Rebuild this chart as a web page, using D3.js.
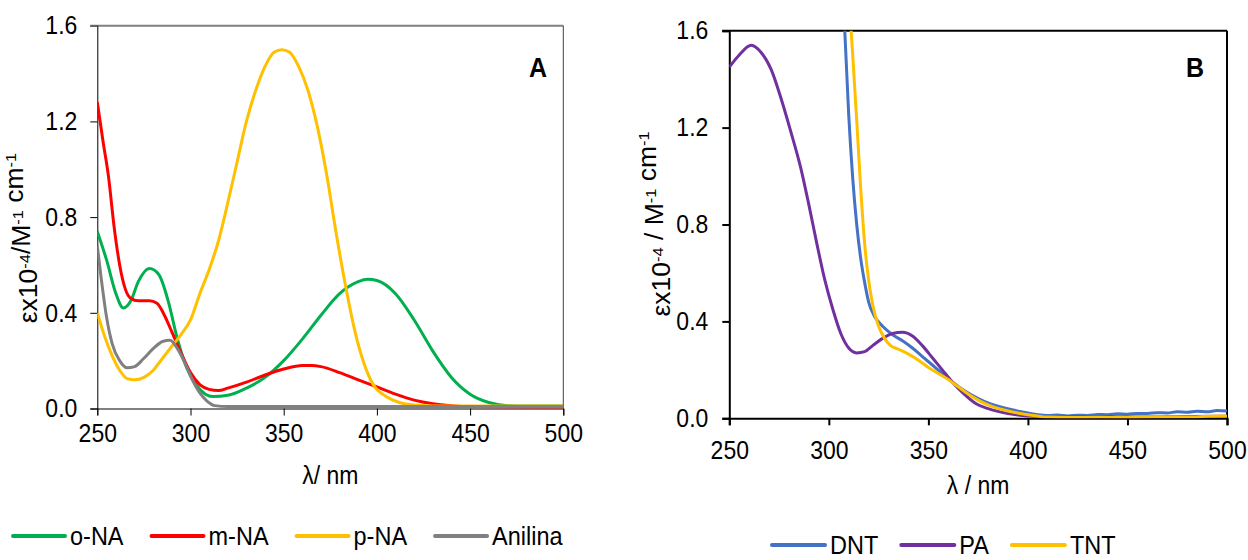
<!DOCTYPE html>
<html>
<head>
<meta charset="utf-8">
<script src="https://cdn.jsdelivr.net/npm/d3@7"></script>
<style>
  body { margin: 0; background: #fff; }
  text { font-family: "Liberation Sans", Arial, sans-serif; fill: #000; }
</style>
</head>
<body>
<div id="chart"></div>
<script>
// ---- data ----
// panel A: nitroanilines + aniline, wavelength (nm) / eps x1e-4
const oNA = [[250,0.74],[255,0.62],[260,0.48],[264,0.42],[268,0.45],[272,0.53],[278,0.585],[283,0.56],[288,0.45],[293,0.29],[298,0.17],[303,0.10],[308,0.06],[312,0.05],[320,0.055],[330,0.085],[340,0.13],[350,0.20],[360,0.29],[370,0.39],[380,0.48],[390,0.53],[395,0.54],[400,0.535],[410,0.48],[420,0.37],[430,0.24],[440,0.13],[450,0.06],[460,0.025],[470,0.012],[480,0.01],[500,0.01]];
const mNA = [[250,1.28],[253,1.12],[256,0.97],[259,0.76],[262,0.6],[265,0.5],[268,0.46],[272,0.45],[278,0.45],[282,0.44],[286,0.39],[290,0.32],[295,0.23],[300,0.15],[305,0.1],[310,0.08],[315,0.075],[320,0.085],[330,0.11],[340,0.14],[350,0.165],[360,0.18],[365,0.18],[370,0.175],[380,0.15],[390,0.12],[400,0.09],[410,0.06],[420,0.035],[430,0.02],[440,0.012],[450,0.008],[500,0.005]];
const pNA = [[250,0.40],[254,0.3],[258,0.22],[262,0.16],[266,0.125],[270,0.12],[275,0.13],[280,0.16],[285,0.21],[290,0.26],[295,0.31],[300,0.37],[305,0.48],[310,0.58],[315,0.70],[320,0.86],[325,1.03],[330,1.20],[335,1.33],[340,1.43],[345,1.49],[349,1.50],[353,1.49],[358,1.43],[363,1.33],[368,1.18],[373,0.98],[378,0.74],[383,0.52],[388,0.33],[393,0.19],[398,0.1],[405,0.05],[412,0.025],[420,0.015],[440,0.01],[500,0.01]];
const anilina = [[250,0.68],[252,0.55],[255,0.38],[258,0.27],[262,0.2],[266,0.17],[270,0.175],[275,0.21],[280,0.25],[285,0.28],[289,0.285],[293,0.25],[297,0.19],[301,0.12],[305,0.065],[309,0.03],[313,0.012],[320,0.008],[500,0.008]];

// panel B: explosives
const dnt = [[300,2.6],[305,2.0],[308,1.6],[310,1.25],[312,0.99],[314,0.8],[316,0.66],[318,0.56],[320,0.48],[323,0.42],[327,0.38],[332,0.345],[337,0.32],[342,0.29],[347,0.255],[352,0.22],[357,0.185],[362,0.15],[367,0.12],[372,0.095],[378,0.07],[385,0.05],[392,0.035],[400,0.022],[405,0.015],[410,0.012],[415,0.014],[420,0.01],[425,0.013],[430,0.012],[435,0.016],[440,0.015],[445,0.019],[450,0.017],[455,0.02],[460,0.02],[465,0.023],[470,0.022],[475,0.027],[480,0.025],[485,0.029],[490,0.027],[495,0.032],[500,0.03]];
const pa = [[250,1.45],[255,1.5],[261,1.54],[266,1.51],[271,1.44],[276,1.32],[281,1.18],[286,1.03],[290,0.88],[294,0.72],[298,0.57],[302,0.45],[306,0.35],[310,0.29],[314,0.27],[318,0.275],[322,0.3],[327,0.33],[332,0.35],[337,0.355],[342,0.34],[347,0.3],[352,0.25],[357,0.2],[362,0.15],[368,0.1],[374,0.06],[380,0.04],[390,0.02],[400,0.01],[420,0.005],[440,0.006],[460,0.005],[480,0.007],[500,0.008]];
const tnt = [[300,3.0],[306,2.2],[310,1.75],[312,1.5],[314,1.23],[316,0.95],[318,0.72],[320,0.57],[322,0.47],[325,0.38],[328,0.33],[331,0.3],[335,0.285],[340,0.265],[345,0.24],[350,0.21],[355,0.185],[360,0.16],[365,0.13],[370,0.1],[375,0.075],[380,0.055],[390,0.03],[400,0.015],[410,0.005],[420,0.003],[435,0.004],[450,0.003],[465,0.005],[480,0.005],[490,0.008],[500,0.01]];

const namesA = ["o-NA", "m-NA", "p-NA", "Anilina"];
const colorsA = ["#00B050", "#FF0000", "#FFC000", "#808080"];
const seriesA = [oNA, mNA, pNA, anilina];

const namesB = ["DNT", "PA", "TNT"];
const colorsB = ["#4472C4", "#7030A0", "#FFC000"];
const seriesB = [dnt, pa, tnt];

const xTicks = [250, 300, 350, 400, 450, 500];
const yTicks = [0, 0.4, 0.8, 1.2, 1.6];

// ---- drawing ----
const SY = 1.12; // text in the picture is a bit taller than wide
const svg = d3.select("#chart").append("svg").attr("width", 1248).attr("height", 560);

function label(x, y, txt, size, anchor, weight) {
  return svg.append("text")
    .attr("transform", `translate(${x},${y}) scale(1,${SY})`)
    .attr("text-anchor", anchor || "middle")
    .attr("dy", "0.35em")
    .style("font-size", size + "px")
    .style("font-weight", weight || "normal")
    .text(txt);
}

function yTitle(x, y, parts, size) {
  const t = svg.append("text")
    .attr("transform", `translate(${x},${y}) rotate(-90) scale(1.06,1)`)
    .attr("text-anchor", "middle")
    .attr("dy", "0.35em")
    .style("font-size", size + "px");
  parts.forEach(p => {
    if (p.sup) {
      t.append("tspan").attr("dy", -7).style("font-size", (size * 0.62) + "px").text(p.t);
      t.append("tspan").attr("dy", 7).text("");
    } else {
      t.append("tspan").text(p.t);
    }
  });
}

function panel(o) {
  const x = d3.scaleLinear().domain([250, 500]).range([o.left, o.right]);
  const y = d3.scaleLinear().domain([0, 1.6]).range([o.bottom, o.top]);

  const clipId = "clip" + o.id;
  svg.append("clipPath").attr("id", clipId).append("rect")
    .attr("x", o.left).attr("y", o.top).attr("width", o.right - o.left).attr("height", o.bottom - o.top);

  // frame
  svg.append("line").attr("x1", o.left - 7).attr("x2", o.right).attr("y1", o.top).attr("y2", o.top)
    .attr("stroke", o.topColor).attr("stroke-width", o.topW);
  svg.append("line").attr("x1", o.right).attr("x2", o.right).attr("y1", o.top).attr("y2", o.bottom)
    .attr("stroke", o.rightColor).attr("stroke-width", o.frameW);

  const gx = svg.append("g").attr("transform", `translate(0,${o.bottom})`)
    .call(d3.axisBottom(x).tickValues(xTicks).tickSize(7).tickFormat(d3.format("d")));
  const gy = svg.append("g").attr("transform", `translate(${o.left},0)`)
    .call(d3.axisLeft(y).tickValues(yTicks).tickSize(7).tickFormat(d3.format(".1f")));

  [gx, gy].forEach(g => {
    g.select(".domain").attr("stroke", "#000").attr("stroke-width", o.frameW);
    g.selectAll(".tick line").attr("stroke", "#000").attr("stroke-width", o.frameW);
    g.selectAll("text").style("font-size", o.tickSize + "px").style("font-family", "Liberation Sans, Arial, sans-serif")
      .attr("fill", "#000");
  });
  gx.selectAll("text").attr("y", o.xLabOff / SY).attr("transform", `scale(1,${SY})`);
  gy.selectAll("text").attr("x", -o.yLabOff).attr("transform", `scale(1,${SY})`);
  gy.select(".tick:last-of-type line").attr("stroke", o.topColor);

  const line = d3.line().x(d => x(d[0])).y(d => y(d[1])).curve(d3.curveMonotoneX);
  const g = svg.append("g").attr("clip-path", `url(#${clipId})`);
  o.series.forEach((s, i) => {
    g.append("path").datum(s).attr("d", line)
      .attr("fill", "none").attr("stroke", o.colors[i]).attr("stroke-width", 3)
      .attr("stroke-linejoin", "round");
  });

  label(o.letterX, o.letterY, o.letter, 25, "middle", "bold");
  label((o.left + o.right) / 2 + o.xTitleDx, o.xTitleY, o.xTitle, o.tickSize, "middle");
  yTitle(o.yTitleX, o.yTitleY, o.yTitle, o.yTitleSize);

  // legend
  let lx = o.legX;
  o.names.forEach((n, i) => {
    svg.append("line").attr("x1", lx).attr("x2", lx + o.legLine).attr("y1", o.legY).attr("y2", o.legY)
      .attr("stroke", o.colors[i]).attr("stroke-width", 4).attr("stroke-linecap", "round");
    const t = label(lx + o.legLine + 5, o.legY, n, o.legSize, "start");
    lx += o.legLine + 5 + t.node().getComputedTextLength() + o.legGap;
  });
}

panel({
  id: "A", left: 97.3, right: 563.3, top: 25.7, bottom: 408.5,
  topColor: "#808080", rightColor: "#404040", frameW: 1, topW: 2,
  tickSize: 23, xLabOff: 15, yLabOff: 20,
  series: seriesA, colors: colorsA, names: namesA,
  letter: "A", letterX: 538, letterY: 67,
  xTitle: "λ/ nm", xTitleDx: 0, xTitleY: 475,
  yTitleX: 28, yTitleY: 238, yTitleSize: 25,
  yTitle: [{t: "εx10"}, {t: "-4", sup: true}, {t: "/M"}, {t: "-1", sup: true}, {t: " cm"}, {t: "-1", sup: true}],
  legX: 13, legY: 536, legLine: 52, legSize: 23.5, legGap: 28
});

panel({
  id: "B", left: 729.3, right: 1227, top: 30.7, bottom: 418.3,
  topColor: "#000", rightColor: "#000", frameW: 2, topW: 2,
  tickSize: 23, xLabOff: 22, yLabOff: 21,
  series: seriesB, colors: colorsB, names: namesB,
  letter: "B", letterX: 1195, letterY: 67,
  xTitle: "λ / nm", xTitleDx: 0, xTitleY: 485,
  yTitleX: 661, yTitleY: 224, yTitleSize: 25,
  yTitle: [{t: "εx10"}, {t: "-4", sup: true}, {t: " / M"}, {t: "-1", sup: true}, {t: " cm"}, {t: "-1", sup: true}],
  legX: 772, legY: 545, legLine: 53, legSize: 23.5, legGap: 23
});
</script>
</body>
</html>
